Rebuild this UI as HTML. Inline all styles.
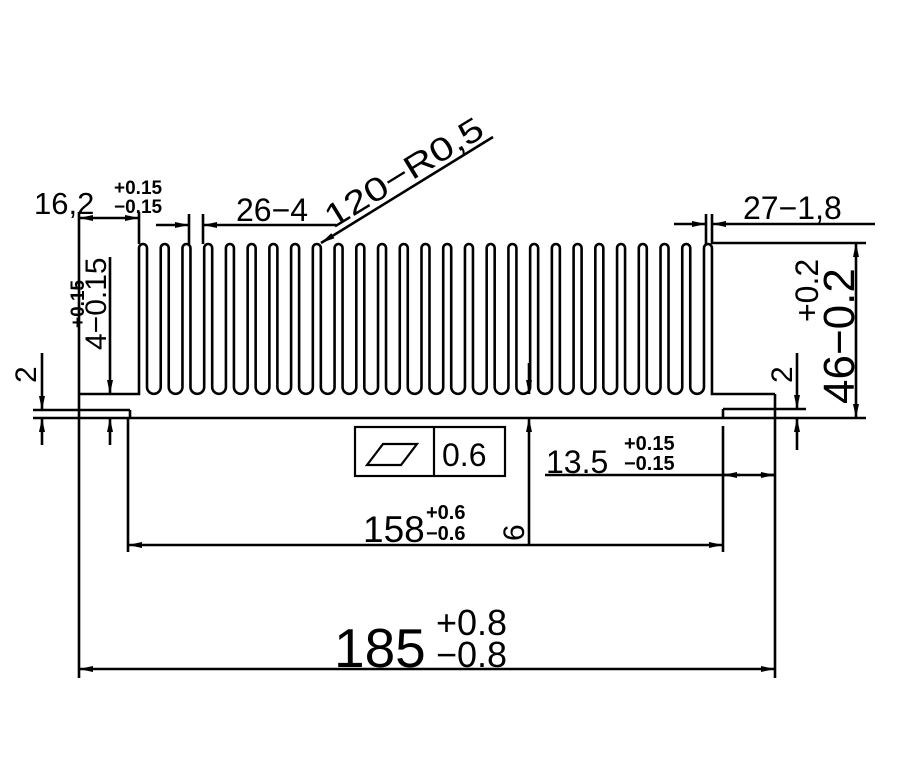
<!DOCTYPE html>
<html><head><meta charset="utf-8"><style>
html,body{margin:0;padding:0;background:#fff;}
svg{display:block;}
text{font-family:"Liberation Sans",sans-serif;fill:#000;}
</style></head><body>
<svg width="902" height="762" viewBox="0 0 902 762" xmlns="http://www.w3.org/2000/svg">
<defs>
<marker id="a" viewBox="0 0 14 6" refX="14" refY="3" markerWidth="14" markerHeight="6" markerUnits="userSpaceOnUse" orient="auto-start-reverse">
<path d="M0 0 L14 3 L0 6 z" fill="#000"/>
</marker>
</defs>
<rect width="902" height="762" fill="#fff"/>
<g fill="none" stroke="#000" stroke-width="2.6">
<path d="M79 394 H139 V248
a4 4 0 0 1 8 0 v139 a6.865 6.865 0 0 0 13.73 0 v-139
a4 4 0 0 1 8 0 v139 a6.865 6.865 0 0 0 13.73 0 v-139
a4 4 0 0 1 8 0 v139 a6.865 6.865 0 0 0 13.73 0 v-139
a4 4 0 0 1 8 0 v139 a6.865 6.865 0 0 0 13.73 0 v-139
a4 4 0 0 1 8 0 v139 a6.865 6.865 0 0 0 13.73 0 v-139
a4 4 0 0 1 8 0 v139 a6.865 6.865 0 0 0 13.73 0 v-139
a4 4 0 0 1 8 0 v139 a6.865 6.865 0 0 0 13.73 0 v-139
a4 4 0 0 1 8 0 v139 a6.865 6.865 0 0 0 13.73 0 v-139
a4 4 0 0 1 8 0 v139 a6.865 6.865 0 0 0 13.73 0 v-139
a4 4 0 0 1 8 0 v139 a6.865 6.865 0 0 0 13.73 0 v-139
a4 4 0 0 1 8 0 v139 a6.865 6.865 0 0 0 13.73 0 v-139
a4 4 0 0 1 8 0 v139 a6.865 6.865 0 0 0 13.73 0 v-139
a4 4 0 0 1 8 0 v139 a6.865 6.865 0 0 0 13.73 0 v-139
a4 4 0 0 1 8 0 v139 a6.865 6.865 0 0 0 13.73 0 v-139
a4 4 0 0 1 8 0 v139 a6.865 6.865 0 0 0 13.73 0 v-139
a4 4 0 0 1 8 0 v139 a6.865 6.865 0 0 0 13.73 0 v-139
a4 4 0 0 1 8 0 v139 a6.865 6.865 0 0 0 13.73 0 v-139
a4 4 0 0 1 8 0 v139 a6.865 6.865 0 0 0 13.73 0 v-139
a4 4 0 0 1 8 0 v139 a6.865 6.865 0 0 0 13.73 0 v-139
a4 4 0 0 1 8 0 v139 a6.865 6.865 0 0 0 13.73 0 v-139
a4 4 0 0 1 8 0 v139 a6.865 6.865 0 0 0 13.73 0 v-139
a4 4 0 0 1 8 0 v139 a6.865 6.865 0 0 0 13.73 0 v-139
a4 4 0 0 1 8 0 v139 a6.865 6.865 0 0 0 13.73 0 v-139
a4 4 0 0 1 8 0 v139 a6.865 6.865 0 0 0 13.73 0 v-139
a4 4 0 0 1 8 0 v139 a6.865 6.865 0 0 0 13.73 0 v-139
a4 4 0 0 1 8 0 v139 a6.865 6.865 0 0 0 13.73 0 v-139
a4 4 0 0 1 8 0 V394 H775"/>
<line x1="79" y1="394" x2="79" y2="678"/>
<line x1="775" y1="394" x2="775" y2="678"/>
<line x1="33" y1="410" x2="130" y2="410"/>
<line x1="130" y1="410" x2="130" y2="418"/>
<line x1="33" y1="418" x2="866" y2="418"/>
<line x1="723" y1="409" x2="806" y2="409"/>
<line x1="723" y1="409" x2="723" y2="418"/>
<line x1="128" y1="418" x2="128" y2="552"/>
<line x1="723" y1="426" x2="723" y2="552"/>
<line x1="79" y1="212" x2="79" y2="394"/>
<line x1="139" y1="212" x2="139" y2="244"/>
<line x1="79" y1="218" x2="139" y2="218" marker-start="url(#a)" marker-end="url(#a)"/>
<line x1="189" y1="214" x2="189" y2="244"/>
<line x1="203" y1="214" x2="203" y2="244"/>
<line x1="156" y1="225" x2="189" y2="225" marker-end="url(#a)"/>
<line x1="336" y1="225" x2="203" y2="225" marker-end="url(#a)"/>
<line x1="493" y1="137" x2="321" y2="243" marker-end="url(#a)"/>
<line x1="110" y1="257" x2="110" y2="394" marker-end="url(#a)"/>
<line x1="110" y1="445" x2="110" y2="418" marker-end="url(#a)"/>
<line x1="42" y1="353" x2="42" y2="410" marker-end="url(#a)"/>
<line x1="42" y1="445" x2="42" y2="418" marker-end="url(#a)"/>
<line x1="797" y1="353" x2="797" y2="409" marker-end="url(#a)"/>
<line x1="797" y1="450" x2="797" y2="418" marker-end="url(#a)"/>
<line x1="706" y1="214" x2="706" y2="244"/>
<line x1="712" y1="214" x2="712" y2="244"/>
<line x1="674" y1="224" x2="706" y2="224" marker-end="url(#a)"/>
<line x1="875" y1="224" x2="712" y2="224" marker-end="url(#a)"/>
<line x1="712" y1="243" x2="866" y2="243"/>
<line x1="856" y1="243" x2="856" y2="418" marker-start="url(#a)" marker-end="url(#a)"/>
<line x1="529" y1="363" x2="529" y2="394" marker-end="url(#a)"/>
<line x1="529" y1="545" x2="529" y2="418" marker-end="url(#a)"/>
<line x1="545" y1="475" x2="775" y2="475"/>
<line x1="740" y1="475" x2="723" y2="475" marker-end="url(#a)"/>
<line x1="760" y1="475" x2="775" y2="475" marker-end="url(#a)"/>
<line x1="128" y1="545" x2="723" y2="545" marker-start="url(#a)" marker-end="url(#a)"/>
<line x1="79" y1="669" x2="775" y2="669" marker-start="url(#a)" marker-end="url(#a)"/>
<rect x="355" y="427" width="150" height="49" stroke-width="2.2"/>
<line x1="434" y1="427" x2="434" y2="476" stroke-width="2.2"/>
<path d="M367 465 L383 444 L417 444 L401 465 Z" stroke-width="2.2"/>
</g>
<text x="34" y="214" font-size="31">16,2</text>
<text x="114" y="194" font-size="19" font-weight="bold">+0.15</text>
<text x="114" y="213" font-size="19" font-weight="bold">−0.15</text>
<text x="236" y="221" font-size="32">26−4</text>
<text transform="translate(333,229) rotate(-31.5)" font-size="33" textLength="180" lengthAdjust="spacingAndGlyphs">120−R0,5</text>
<text x="743" y="219" font-size="32">27−1,8</text>
<text transform="translate(106,350) rotate(-90)" font-size="30">4−0.15</text>
<text transform="translate(84,328) rotate(-90)" font-size="19" font-weight="bold">+0.15</text>
<text transform="translate(36,383) rotate(-90)" font-size="30">2</text>
<text transform="translate(792,383) rotate(-90)" font-size="30">2</text>
<text transform="translate(854,404) rotate(-90)" font-size="44">46−0.2</text>
<text transform="translate(818,322) rotate(-90)" font-size="32">+0.2</text>
<text x="442" y="466" font-size="32">0.6</text>
<text x="546" y="473" font-size="32">13.5</text>
<text x="624" y="450" font-size="20" font-weight="bold">+0.15</text>
<text x="624" y="470" font-size="20" font-weight="bold">−0.15</text>
<text x="363" y="542" font-size="37">158</text>
<text x="426" y="519" font-size="20" font-weight="bold">+0.6</text>
<text x="426" y="540" font-size="20" font-weight="bold">−0.6</text>
<text transform="translate(524,541) rotate(-90)" font-size="30">6</text>
<text x="334" y="667" font-size="55">185</text>
<text x="436" y="635" font-size="36">+0.8</text>
<text x="436" y="667" font-size="36">−0.8</text>
</svg>
</body></html>
